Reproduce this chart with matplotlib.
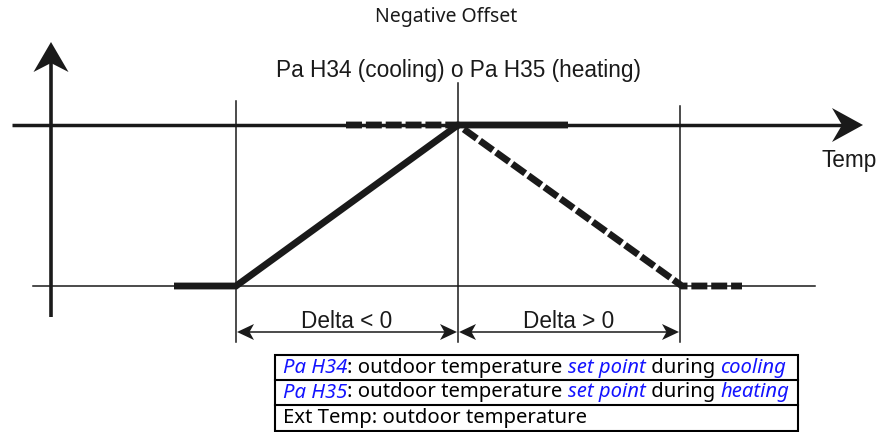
"""Outdoor set-point compensation with negative offset (cooling / heating)."""

import matplotlib

matplotlib.use("Agg")
import matplotlib.pyplot as plt
import numpy as np
from matplotlib.patches import Polygon, Rectangle

plt.rcParams["lines.scale_dashes"] = False

# Diagram units: x grows to the right, y grows downwards.
COOLING_T = [174, 236, 458, 568]
COOLING_SP = [286, 286, 125, 125]
HEATING_T = [346, 458, 682, 742]
HEATING_SP = [125, 125, 286, 286]

DELTA_MARKS = [236, 458, 680]
DELTA_TOPS = [101, 83, 106]
DELTA_LABELS = ["Delta < 0", "Delta > 0"]

SP_LEVEL = 125
EXT_LEVEL = 286

TITLE = "Negative Offset"
PARAM_LABEL = "Pa H34 (cooling) o Pa H35 (heating)"
X_LABEL = "Temp"

# legend rows: (text, is_highlighted)
LEGEND_ROWS = [
    [("Pa H34", True), (": outdoor temperature ", False), ("set point", True),
     (" during ", False), ("cooling", True)],
    [("Pa H35", True), (": outdoor temperature ", False), ("set point", True),
     (" during ", False), ("heating", True)],
    [("Ext Temp: outdoor temperature", False)],
]

INK = "#1a1a1a"
HIGHLIGHT = "#1414ff"
LABEL_FONT = "Liberation Sans"
NOTE_FONT = "Noto Sans"


def arrow_head(ax, tip, direction, length, half_width, notch):
    d = np.asarray(direction, dtype=float)
    d /= np.hypot(*d)
    n = np.array([-d[1], d[0]])
    tip = np.asarray(tip, dtype=float)
    base = tip - d * length
    pts = [tip, base + n * half_width, tip - d * (length - notch), base - n * half_width]
    ax.add_patch(Polygon(pts, closed=True, facecolor=INK, edgecolor="none", zorder=5))


fig = plt.figure(figsize=(8.82, 4.32), dpi=100)
ax = fig.add_axes([0, 0, 1, 1])
ax.set_xlim(0, 882)
ax.set_ylim(432, 0)
ax.axis("off")

# axes of the diagram
ax.plot([51, 51], [317, 62], color=INK, lw=2.6, solid_capstyle="butt")
arrow_head(ax, (51, 42), (0, -1), 30, 17.5, 9)
ax.plot([12, 845], [SP_LEVEL, SP_LEVEL], color=INK, lw=2.5, solid_capstyle="butt")
arrow_head(ax, (863, SP_LEVEL), (1, 0), 31, 17, 10)
ax.plot([33, 815], [EXT_LEVEL, EXT_LEVEL], color=INK, lw=1.1)

# vertical guides at the delta limits
for x, top in zip(DELTA_MARKS, DELTA_TOPS):
    ax.plot([x, x], [top, 342], color=INK, lw=1.1)

# set-point curves
ax.plot(COOLING_T, COOLING_SP, color=INK, lw=4.9, solid_joinstyle="miter",
        solid_capstyle="butt", zorder=4)
ax.plot(HEATING_T, HEATING_SP, color=INK, lw=4.9, dashes=(11.5, 2.8),
        dash_capstyle="butt", dash_joinstyle="miter", zorder=4)

# delta dimension arrows
for (x0, x1), label in zip(zip(DELTA_MARKS[:-1], DELTA_MARKS[1:]), DELTA_LABELS):
    ax.plot([x0 + 8, x1 - 8], [332, 332], color=INK, lw=1.1)
    arrow_head(ax, (x0 + 1, 332), (-1, 0), 17, 8, 4.5)
    arrow_head(ax, (x1 - 1, 332), (1, 0), 17, 8, 4.5)
    ax.text((x0 + x1) / 2, 321, label, ha="center", va="center",
            fontsize=16.3, family=LABEL_FONT, color=INK)

ax.text(446, 17, TITLE, ha="center", va="center", fontsize=14,
        family=NOTE_FONT, color=INK)
ax.text(458, 71, PARAM_LABEL, ha="center", va="center", fontsize=16.3,
        family=LABEL_FONT, color=INK)
ax.text(849, 160, X_LABEL, ha="center", va="center", fontsize=16.3,
        family=LABEL_FONT, color=INK)

# legend table
table_x0, table_x1 = 275, 798
row_edges = [355, 379.5, 404.5, 430.5]
ax.add_patch(Rectangle((table_x0, row_edges[0]), table_x1 - table_x0,
                       row_edges[-1] - row_edges[0], fill=False,
                       edgecolor="black", lw=1.5, zorder=3))
for y in row_edges[1:-1]:
    ax.plot([table_x0, table_x1], [y, y], color="black", lw=1.5)

for row, (top, bottom) in zip(LEGEND_ROWS, zip(row_edges[:-1], row_edges[1:])):
    prev = None
    for text, highlighted in row:
        style = dict(fontsize=14.6, family=NOTE_FONT,
                     color=HIGHLIGHT if highlighted else "black",
                     style="italic" if highlighted else "normal")
        if prev is None:
            prev = ax.text(283, (top + bottom) / 2 + 0.5, text, ha="left",
                           va="center", **style)
        else:
            prev = ax.annotate(text, xy=(1, 0), xycoords=prev, ha="left",
                               va="bottom", **style)

fig.savefig("out.png", dpi=100)
